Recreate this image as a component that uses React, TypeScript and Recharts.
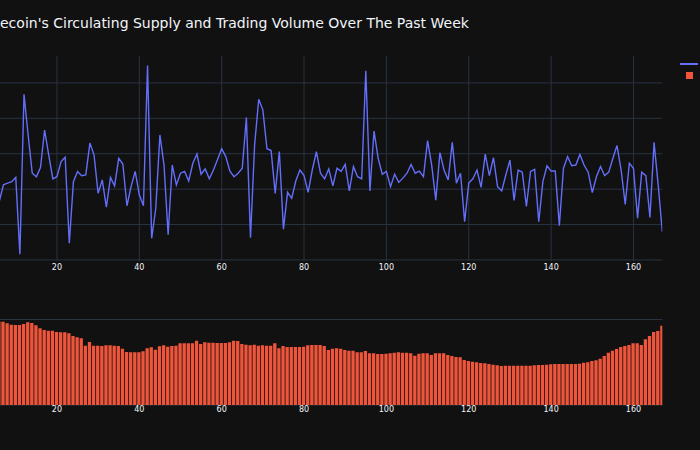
import React from 'react';
import { LineChart, Line, BarChart, Bar, XAxis, YAxis, CartesianGrid } from 'recharts';

// hourly samples, first visible hour is 6 (the left part of the figure is cropped)
const FIRST_HOUR = 6;
const hourTicks = [20, 40, 60, 80, 100, 120, 140, 160];
const supplyTicks = [0, 1, 2, 3, 4, 5];
const volumeTicks = [0, 85.5];

const supply = [
  1.65, 2.12, 2.17, 2.21, 2.33, 0.16, 4.68, 3.53, 2.45, 2.35,
  2.61, 3.67, 2.97, 2.29, 2.35, 2.78, 2.9, 0.47, 2.21, 2.5,
  2.38, 2.4, 3.3, 2.97, 1.88, 2.26, 1.49, 2.33, 2.09, 2.87,
  2.71, 1.53, 2.07, 2.5, 1.84, 1.53, 5.49, 0.61, 1.46, 3.53,
  2.68, 0.71, 2.68, 2.12, 2.45, 2.5, 2.23, 2.73, 2.99, 2.42,
  2.57, 2.29, 2.54, 2.84, 3.14, 2.92, 2.51, 2.35, 2.45, 2.59,
  4.02, 0.63, 3.25, 4.54, 4.24, 3.14, 3.09, 1.88, 3.06, 0.87,
  1.91, 1.74, 2.23, 2.54, 2.38, 1.91, 2.54, 3.06, 2.45, 2.29,
  2.57, 2.09, 2.59, 2.5, 2.7, 1.95, 2.64, 2.35, 2.29, 5.34,
  1.95, 3.64, 2.87, 2.42, 2.5, 2.07, 2.42, 2.19, 2.31, 2.45,
  2.7, 2.45, 2.51, 2.35, 3.37, 2.68, 1.69, 3.03, 2.54, 2.26,
  3.32, 2.17, 2.45, 1.08, 2.17, 2.29, 2.54, 2.05, 2.99, 2.38,
  2.89, 2.07, 1.95, 2.4, 2.82, 1.68, 2.54, 2.48, 1.51, 2.5,
  2.56, 1.08, 2.21, 2.66, 2.51, 2.51, 0.97, 2.59, 2.92, 2.66,
  2.68, 2.98, 2.68, 2.48, 1.9, 2.35, 2.64, 2.38, 2.48, 2.87,
  3.23, 2.54, 1.57, 2.73, 2.59, 1.18, 2.48, 2.38, 1.2, 3.32,
  2.12, 0.8,
];

const volume = [
  83.3, 83.3, 81.7, 80.3, 80, 80, 81, 82.7, 82, 79.7,
  76.7, 75, 74.3, 74.3, 73, 72.7, 72.7, 71.7, 69, 67.7,
  66.7, 59.3, 63, 59.3, 59.3, 59, 59.7, 59.7, 59.3, 59,
  56.3, 53, 52.7, 52.7, 52.7, 53.7, 56.7, 57.7, 55.3, 58.7,
  59.7, 58.3, 59, 59.3, 61.7, 61.7, 61.7, 61.7, 64.3, 61,
  62.7, 62.3, 62.3, 62, 62, 62, 62.7, 64.3, 64, 61,
  60.3, 59.7, 60.3, 59.3, 59.7, 59.3, 59.3, 61.7, 56.7, 59,
  58, 58, 58, 58, 58.3, 59.7, 60, 60, 60, 59,
  55, 56.3, 56.7, 56.3, 55, 54.3, 54.3, 52.7, 52.7, 54,
  51.7, 51.7, 51, 51, 51.3, 51.7, 52.3, 52.7, 52.3, 52.3,
  51.7, 49.3, 51.3, 51.7, 51.7, 50, 51.7, 51.7, 51.7, 50,
  49, 48, 47.7, 45, 44, 43.3, 42.7, 42, 41.7, 41,
  40.3, 39.7, 39, 39.3, 39.3, 39.3, 39.3, 39.3, 39.3, 39.3,
  39.7, 40, 40, 40.3, 40.7, 41, 41, 41, 41, 41,
  41, 41.3, 42.3, 42.7, 44, 44.7, 46.3, 49, 52.3, 54.3,
  56, 58, 59, 60, 61.7, 61.7, 60, 65.7, 69, 73,
  74, 79.3,
];

const supplyData = supply.map((v, k) => ({ hour: FIRST_HOUR + k, supply: v }));
const volumeData = volume.map((v, k) => ({ hour: FIRST_HOUR + k, volume: v }));

const BG = '#111111';
const GRID = '#283442';
const FONT = '#f2f5fa';
const LINE = '#636efa';
const BAR = '#EF553B';
const xDomain: [number, number] = [6.17, 167];
const tickStyle = { fill: FONT, fontSize: 8, fontFamily: 'DejaVu Sans' };

// y labels sit left of the cropped frame, so draw nothing for them
const NoTick = () => <g />;

export default function App() {
  return (
    <div style={{ position: 'absolute', left: 0, top: 0, width: 700, height: 450, background: BG, overflow: 'hidden' }}>
      <div
        style={{
          position: 'absolute',
          left: 0,
          top: 14,
          color: FONT,
          fontFamily: 'DejaVu Sans',
          fontSize: 14,
          whiteSpace: 'nowrap',
          lineHeight: '18px',
        }}
      >
        ecoin's Circulating Supply and Trading Volume Over The Past Week
      </div>

      <div style={{ position: 'absolute', left: 0, top: 0 }}>
        <LineChart width={700} height={281} data={supplyData} margin={{ top: 56, right: 37.7, left: 0, bottom: 0 }}>
          <CartesianGrid
            stroke={GRID}
            strokeWidth={1}
            horizontalValues={supplyTicks}
            verticalValues={hourTicks}
          />
          <XAxis
            dataKey="hour"
            type="number"
            domain={xDomain}
            allowDataOverflow
            ticks={hourTicks}
            height={20}
            tickLine={false}
            axisLine={false}
            tickSize={0}
            tickMargin={3}
            tick={tickStyle}
          />
          <YAxis
            type="number"
            domain={[-0.03, 5.76]}
            ticks={supplyTicks}
            allowDataOverflow
            width={0}
            tick={NoTick}
            tickLine={false}
            axisLine={false}
          />
          <Line
            type="linear"
            dataKey="supply"
            stroke={LINE}
            strokeWidth={1.4}
            dot={false}
            isAnimationActive={false}
          />
        </LineChart>
      </div>

      <div style={{ position: 'absolute', left: 0, top: 0 }}>
        <BarChart width={700} height={425} data={volumeData} margin={{ top: 317.5, right: 37.7, left: 0, bottom: 0 }}>
          <CartesianGrid stroke={GRID} strokeWidth={1} vertical={false} horizontalValues={volumeTicks} />
          <XAxis
            dataKey="hour"
            type="number"
            domain={xDomain}
            allowDataOverflow
            ticks={hourTicks}
            height={20}
            tickLine={false}
            axisLine={false}
            tickSize={0}
            tickMargin={1}
            tick={tickStyle}
          />
          <YAxis
            type="number"
            domain={[0, 87.5]}
            ticks={volumeTicks}
            width={0}
            tick={NoTick}
            tickLine={false}
            axisLine={false}
          />
          <Bar dataKey="volume" fill={BAR} barSize={3.3} isAnimationActive={false} />
        </BarChart>
      </div>

      {/* legend markers, their labels fall outside the cropped frame */}
      <div style={{ position: 'absolute', left: 680, top: 63, width: 18, height: 2, background: LINE }} />
      <div style={{ position: 'absolute', left: 686, top: 72, width: 6.5, height: 6.5, background: BAR }} />
    </div>
  );
}
